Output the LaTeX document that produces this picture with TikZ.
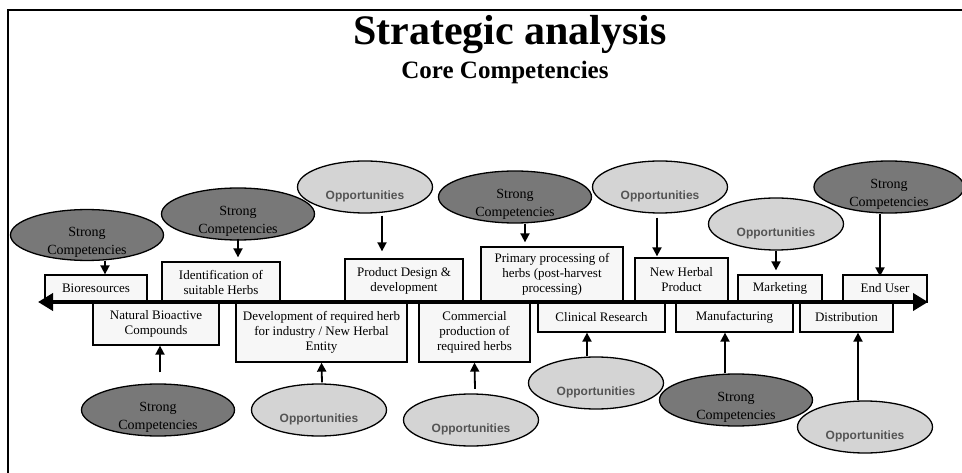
\documentclass[tikz,border=0pt]{standalone}
\usepackage{fontspec}
\setmainfont{Liberation Serif}
\newfontfamily\oppfont{Liberation Sans}
\usepackage{tikz}
\usetikzlibrary{arrows.meta,shapes.geometric}
\definecolor{stagefill}{gray}{0.97}
\definecolor{strongfill}{gray}{0.47}
\definecolor{oppfill}{gray}{0.83}
\definecolor{opptext}{gray}{0.33}

% ellipse labels sit a little below the middle
\newcommand{\strongtxt}{\raisebox{-7pt}[\height][\depth]{\begin{tabular}{@{}c@{}}Strong\\Competencies\end{tabular}}}
\newcommand{\opptxt}{\raisebox{-9pt}[\height][\depth]{Opportunities}}

\begin{document}
\begin{tikzpicture}[
  x=1pt,y=-1pt,
  stage/.style={draw,line width=1.3pt,fill=stagefill,align=center,inner sep=0pt,
                font=\fontsize{13}{15}\selectfont},
  strong/.style={ellipse,draw,line width=1.3pt,fill=strongfill,inner sep=0pt,
                 minimum width=153pt,minimum height=52pt,font=\fontsize{14}{18}\selectfont},
  opp/.style={ellipse,draw,line width=1.3pt,fill=oppfill,inner sep=0pt,
              minimum width=135pt,minimum height=52pt,text=opptext,
              font=\oppfont\bfseries\fontsize{12}{14}\selectfont},
  link/.style={->,line width=1.8pt},
  >={Triangle[length=9pt,width=9pt]}
]
\useasboundingbox (0,0) rectangle (962,473);
\draw[line width=1.8pt] (8,473) -- (8,10) -- (962,10);

\node[font=\bfseries\fontsize{42}{46}\selectfont,anchor=base] (title) at (510,45) {Strategic analysis};
\node[font=\bfseries\fontsize{25}{28}\selectfont,anchor=base] (subtitle) at (505,79) {Core Competencies};

% stages above the line
\node[stage,minimum width=102pt,minimum height=27pt] (bio) at (96,288.5) {Bioresources};
\node[stage,minimum width=118pt,minimum height=40pt] (ident) at (221,282) {Identification of\\suitable Herbs};
\node[stage,minimum width=118pt,minimum height=43pt] (design) at (404,280.5) {Product Design \&\\development};
\node[stage,minimum width=142pt,minimum height=55pt] (primary) at (552,274.5) {Primary processing of\\herbs (post-harvest\\processing)};
\node[stage,minimum width=93pt,minimum height=44pt] (newherb) at (681.5,280) {New Herbal\\Product};
\node[stage,minimum width=84pt,minimum height=27pt] (market) at (780,288.5) {Marketing};
\node[stage,minimum width=84pt,minimum height=27pt] (enduser) at (885,288.5) {End User};

% stages below the line
\node[stage,minimum width=126pt,minimum height=43pt] (natural) at (156,323.5) {Natural Bioactive\\Compounds};
\node[stage,minimum width=171pt,minimum height=60pt] (devel) at (321.5,332) {Development of required herb\\for industry / New Herbal\\Entity};
\node[stage,minimum width=111pt,minimum height=60pt] (commerce) at (474.5,332) {Commercial\\production of\\required herbs};
\node[stage,minimum width=127pt,minimum height=30pt] (clinical) at (601.5,317) {Clinical Research};
\node[stage,minimum width=117pt,minimum height=30pt] (manuf) at (734.5,317) {Manufacturing};
\node[stage,minimum width=93pt,minimum height=30pt] (distrib) at (846.5,317) {Distribution};

% value chain line
\coordinate (west) at (38,302);
\coordinate (east) at (928,302);
\draw[line width=4pt,{Triangle[length=15pt,width=17pt]}-{Triangle[length=15pt,width=17pt]}] (west) -- (east);

% ellipses above
\node[strong,minimum height=47pt] (sc1) at (87,235) {\strongtxt};
\node[strong] (sc2) at (238,214) {\strongtxt};
\node[opp] (op1) at (365,187) {\opptxt};
\node[strong] (sc3) at (515,197) {\strongtxt};
\node[opp] (op2) at (660,187) {\opptxt};
\node[opp] (op3) at (776,224) {\opptxt};
\node[strong,minimum width=150pt] (sc4) at (889,187) {\strongtxt};

% ellipses below
\node[strong] (sc5) at (158,410) {\strongtxt};
\node[opp] (op4) at (319,410) {\opptxt};
\node[opp] (op5) at (471,420) {\opptxt};
\node[opp] (op6) at (596,383) {\opptxt};
\node[strong] (sc6) at (736,400) {\strongtxt};
\node[opp] (op7) at (865,427) {\opptxt};

\draw[link] ([xshift=18]sc1.south) -- ([xshift=9]bio.north);
\draw[link] ([yshift=2]sc2.south) -- ([shift={(17,-4)}]ident.north);
\draw[link] ([shift={(17,2)}]op1.south) -- ([shift={(-22,-7)}]design.north);
\draw[link] ([xshift=10]sc3.south) -- ([shift={(-27,-4)}]primary.north);
\draw[link] ([shift={(-3,4)}]op2.south) -- ([shift={(-24.5,-1)}]newherb.north);
\draw[link] (op3.south) -- ([shift={(-4,-4)}]market.north);
\draw[link] ([xshift=-9]sc4.south) -- ([shift={(-5,2)}]enduser.north);

\draw[link] ([shift={(2,-11)}]sc5.north) -- ([xshift=4]natural.south);
\draw[link] ([shift={(3,-1)}]op4.north) -- (devel.south);
\draw[link] ([shift={(4,-4.5)}]op5.north) -- (commerce.south);
\draw[link] ([xshift=-9]op6.north) -- ([xshift=-14.5]clinical.south);
\draw[link] ([xshift=-11]sc6.north) -- ([xshift=-9.5]manuf.south);
\draw[link] ([xshift=-7]op7.north) -- ([xshift=11.5]distrib.south);
\end{tikzpicture}
\end{document}
